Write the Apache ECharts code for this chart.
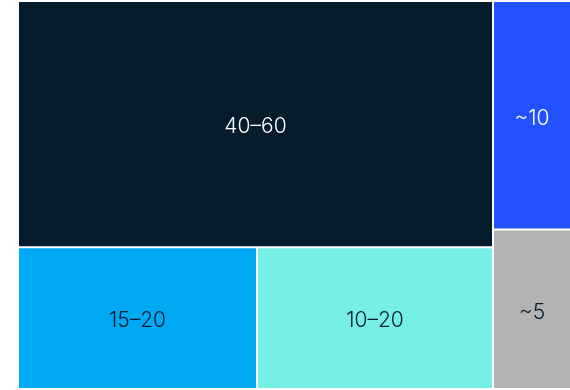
<!DOCTYPE html>
<html>
<head>
<meta charset="utf-8">
<script src="https://cdn.jsdelivr.net/npm/echarts@6/dist/echarts.min.js"></script>
<style>
html,body{margin:0;padding:0;background:#fff;}
#chart{width:570px;height:390px;}
</style>
</head>
<body>
<div id="chart"></div>
<script>
// Cell names and values (relative areas)
const bigLabel = '40–60';
const bigValue = 54.5;
const bottomLabels = ['15–20', '10–20'];
const bottomValues = [15.8, 15.6];
const rightLabels = ['~10', '~5'];
const rightValues = [8.3, 5.8];

const colors = {
  '40–60': '#051c2c',
  '15–20': '#00a9f4',
  '10–20': '#76f0e6',
  '~10': '#2251ff',
  '~5': '#b3b3b3'
};
const textColors = {
  '40–60': '#ffffff',
  '15–20': '#051c2c',
  '10–20': '#051c2c',
  '~10': '#ffffff',
  '~5': '#051c2c'
};

function leaf(name, value) {
  return {
    name: name,
    value: value,
    itemStyle: { color: colors[name], borderColor: '#ffffff', borderWidth: 1 },
    label: { color: textColors[name] }
  };
}

const data = [
  {
    name: 'left',
    children: [
      leaf(bigLabel, bigValue),
      { name: 'bottom', children: bottomLabels.map((n, i) => leaf(n, bottomValues[i])) }
    ]
  },
  {
    name: 'right',
    children: rightLabels.map((n, i) => leaf(n, rightValues[i]))
  }
];

const chart = echarts.init(document.getElementById('chart'), null, { renderer: 'canvas' });
chart.setOption({
  animation: false,
  series: [{
    type: 'treemap',
    left: 18,
    top: 1,
    width: 553,
    height: 388,
    roam: false,
    nodeClick: false,
    squareRatio: 2.5,
    breadcrumb: { show: false },
    itemStyle: { borderWidth: 0, gapWidth: 0, borderColor: '#ffffff' },
    upperLabel: { show: false },
    label: {
      show: true,
      position: 'inside',
      align: 'center',
      verticalAlign: 'middle',
      fontFamily: 'Inter, sans-serif',
      fontSize: 21,
      fontWeight: 300,
      offset: [0, 3],
      formatter: '{b}'
    },
    data: data
  }]
});
</script>
</body>
</html>
